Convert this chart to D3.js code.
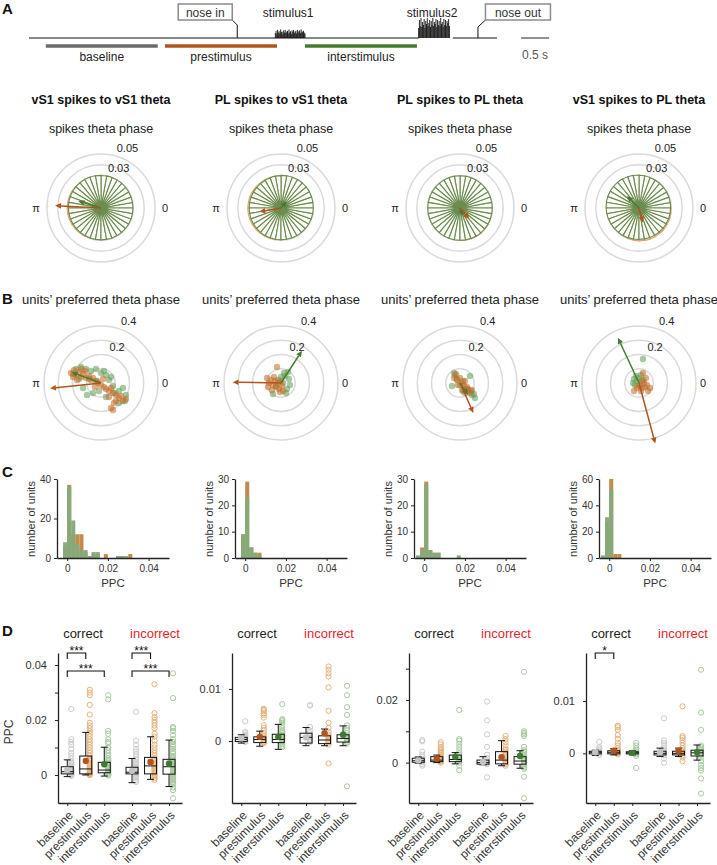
<!DOCTYPE html>
<html>
<head>
<meta charset="utf-8">
<script src="https://cdn.jsdelivr.net/npm/d3@7"></script>
<style>
body { margin: 0; background: #fff; }
svg { font-family: "Liberation Sans", Arial, sans-serif; }
</style>
</head>
<body>
<script>

// ---------------- data ----------------

// panel A : trial timeline (seconds)
var trialEnd = 8.36, noseIn = 3.72, noseOut = 8.02, lineResume = 7.57;
var stim1 = [4.40, 4.93], stim2 = [6.96, 7.51];
var periodNames = ["baseline", "prestimulus", "interstimulus"];
var periodStart = [0.3, 2.43, 4.93];
var periodEnd = [2.3, 4.43, 6.93];
var scaleBarStart = 8.79, scaleBarLen = 0.5;
var stim1Amp = [0.55,0.8,0.45,0.9,0.6,0.75,0.5,0.95,0.65,0.7,0.4,0.85,0.6,0.9,0.55,0.7,0.8,0.5,0.95,0.6,0.75,0.45,0.85,0.65,0.9,0.55,0.7,0.8,0.5,0.9,0.6,0.75,0.85,0.55,0.95,0.65,0.7,0.8,0.6,0.5];
var stim2Amp = [0.5,0.9,0.6,1.0,0.55,0.8,0.65,0.95,0.5,0.85,0.7,1.0,0.6,0.75,0.9,0.55,0.85,0.65,1.0,0.6,0.8,0.7,0.95,0.55,0.9,0.65,0.85,0.6,1.0,0.7,0.8,0.55,0.95,0.65,0.9,0.6,0.85,0.75,0.95,0.6];

var panelTitles = ["vS1 spikes to vS1 theta", "PL spikes to vS1 theta", "PL spikes to PL theta", "vS1 spikes to PL theta"];

// row 1 : spike phase distributions, 36 bins of 10 deg starting at 0
var rosePre = [
  [0.0285,0.0285,0.0285,0.0285,0.0285,0.029,0.029,0.029,0.0292,0.0295,0.0298,0.030,0.0302,0.0305,0.0308,0.031,0.0312,0.0313,0.0313,0.0312,0.031,0.0307,0.0303,0.030,0.0296,0.0292,0.029,0.0288,0.0286,0.0285,0.0285,0.0285,0.0285,0.0285,0.0285,0.0285],
  [0.0288,0.0288,0.0288,0.0288,0.0288,0.0288,0.0289,0.029,0.0291,0.0293,0.0295,0.0297,0.0299,0.0301,0.0303,0.0305,0.0306,0.0307,0.0307,0.0307,0.0306,0.0305,0.0303,0.0301,0.0299,0.0297,0.0295,0.0293,0.0291,0.029,0.0289,0.0288,0.0288,0.0288,0.0288,0.0288],
  [0.0293,0.0292,0.0291,0.029,0.029,0.029,0.029,0.029,0.029,0.029,0.029,0.029,0.029,0.029,0.029,0.029,0.029,0.029,0.029,0.029,0.029,0.029,0.0291,0.0292,0.0294,0.0296,0.0298,0.030,0.0302,0.0303,0.0303,0.0302,0.030,0.0298,0.0296,0.0294],
  [0.0295,0.0293,0.0291,0.029,0.0289,0.0288,0.0287,0.0286,0.0285,0.0285,0.0285,0.0285,0.0285,0.0285,0.0285,0.0285,0.0285,0.0285,0.0286,0.0287,0.0288,0.029,0.0292,0.0294,0.0297,0.030,0.0302,0.0304,0.0305,0.0305,0.0304,0.0303,0.0302,0.030,0.0299,0.0297]
];
var roseInt = [
  [0.0295,0.0295,0.0295,0.0296,0.0297,0.0298,0.0299,0.030,0.0301,0.0302,0.0303,0.0304,0.0304,0.0304,0.0304,0.0304,0.0303,0.0302,0.0301,0.030,0.0299,0.0298,0.0297,0.0296,0.0295,0.0295,0.0295,0.0295,0.0295,0.0295,0.0295,0.0295,0.0295,0.0295,0.0295,0.0295],
  [0.0298,0.030,0.0302,0.0303,0.0304,0.0305,0.0304,0.0303,0.0302,0.030,0.0298,0.0296,0.0295,0.0294,0.0294,0.0294,0.0294,0.0294,0.0294,0.0294,0.0294,0.0294,0.0294,0.0294,0.0294,0.0294,0.0294,0.0294,0.0294,0.0294,0.0294,0.0294,0.0295,0.0296,0.0297,0.0298],
  [0.0298,0.0298,0.0298,0.0298,0.0298,0.0298,0.0298,0.0298,0.0298,0.0298,0.0298,0.0298,0.0298,0.0298,0.0298,0.0298,0.0298,0.0298,0.0298,0.0298,0.0298,0.0298,0.0298,0.0298,0.0298,0.0298,0.0298,0.0299,0.0299,0.030,0.030,0.0299,0.0299,0.0298,0.0298,0.0298],
  [0.0292,0.0293,0.0294,0.0295,0.0296,0.0297,0.0299,0.0301,0.0303,0.0305,0.0307,0.0308,0.0309,0.0309,0.0309,0.0308,0.0307,0.0305,0.0303,0.0301,0.0299,0.0297,0.0295,0.0294,0.0293,0.0292,0.0291,0.029,0.029,0.029,0.029,0.029,0.029,0.029,0.0291,0.0291]
];
// mean resultant vectors [angle deg, length]
var roseArrowPre = [[177, 0.0426], [190, 0.0204], [-50, 0.0133], [-75, 0.0139]];
var roseArrowInt = [[163, 0.022], [50, 0.0083], [-67, 0.0078], [135, 0.0157]];

// row B : units' preferred phase vectors [cos, sin] components
var unitsPre = [
  [[-0.21,0.07],[-0.19,0.09],[-0.175,0.056],[-0.154,0.077],[-0.14,0.042],[-0.126,0.063],[-0.105,0.035],[-0.084,0.049],[-0.07,0.021],[-0.056,0.035],[-0.035,0.014],[-0.021,0],[0,-0.014],[0.021,-0.028],[0.035,-0.042],[0.056,-0.056],[0.07,-0.035],[0.084,-0.07],[0.105,-0.084],[0.126,-0.105],[0.14,-0.091],[0.154,-0.126],[0.175,-0.112],[0.091,-0.14],[-0.14,0.098],[-0.196,0.042],[-0.112,0.084],[-0.042,-0.028],[0.014,0.028],[-0.168,0.021],[0.056,-0.098],[0.105,-0.126],[0.07,-0.175],[0.084,-0.189]],
  [[-0.098,0.035],[-0.084,0],[-0.07,0.021],[-0.056,-0.014],[-0.042,0.014],[-0.035,-0.028],[-0.021,0],[-0.014,-0.042],[0,0.014],[0.007,-0.021],[-0.063,-0.049],[-0.028,0.112],[-0.091,-0.028],[0.014,-0.056],[-0.049,0.042],[-0.007,-0.063]],
  [[-0.042,0.035],[-0.021,0.021],[0,0.035],[0.014,0],[0.028,-0.021],[0.042,-0.042],[0.056,-0.056],[0.07,-0.07],[-0.014,-0.014],[0.035,0.014],[0.049,-0.028],[-0.028,0.063],[0.084,-0.049],[0.021,-0.056]],
  [[0,-0.021],[0.021,-0.035],[0.042,-0.028],[0.056,-0.014],[0.077,-0.035],[-0.035,-0.056],[0.014,-0.056],[0.035,0],[0.049,0.035],[0.028,0.07],[-0.014,-0.035],[0.063,-0.056],[0.021,0.014]]
];
var unitsInt = [
  [[-0.175,0.098],[-0.14,0.112],[-0.105,0.098],[-0.07,0.084],[-0.035,0.098],[0,0.07],[0.035,0.056],[0.056,0.021],[0.084,-0.021],[0.126,-0.056],[0.154,-0.035],[0.175,-0.084],[0.168,-0.126],[0.126,-0.14],[-0.126,-0.035],[-0.098,-0.084],[-0.056,-0.07],[-0.014,-0.056],[0.035,-0.098],[-0.196,0.063],[-0.154,0.028],[-0.028,0.014],[0.021,0.084],[0.07,0.042],[0.098,-0.07],[-0.084,0.028]],
  [[-0.056,-0.077],[0.035,-0.07],[0.021,0.07],[0.056,0.028],[0.063,-0.014],[0.042,-0.042],[0,0.042],[-0.021,0.021],[0.014,0],[-0.035,-0.021],[0.028,0.049],[0.049,0.077]],
  [[-0.056,-0.021],[-0.035,0.056],[0.07,0.049],[0.084,-0.084],[0.105,-0.105],[0.035,-0.07],[0,-0.014],[-0.021,0.028],[0.056,-0.042],[0.021,0.014],[-0.042,0.07],[0.077,-0.056],[0.014,-0.049],[0.098,-0.077]],
  [[-0.035,0.028],[-0.021,0.049],[0,0.035],[0.014,0.056],[-0.042,0],[-0.014,0.014],[0.028,0.021],[0.028,0.168],[0.007,-0.014],[-0.028,-0.014]]
];
var unitsArrowPre = [[186, 0.36], [179, 0.34], [-66, 0.23], [-75, 0.44]];
var unitsArrowInt = [[160, 0.22], [57, 0.27], [-56, 0.10], [115, 0.35]];

// row C : PPC histograms, bins of 0.002 starting at -0.004
var histBinStart = -0.004, histBinWidth = 0.002;
var histPre = [
  [0,6,37,12,12,12,3,1,2,2,0,2,0,0,1,1,0,2],
  [0,9,29,4,2,2],
  [0,4,29,3,2,2,0,0,0,0,0,0],
  [0,28,60,3,3]
];
var histInt = [
  [0,8,36,19,7,4,4,1,3,3,0,0,0,0,1,1,1,0],
  [0,9,23,4,2,1],
  [1,3,28,3,2,2,0,0,0,0,1,0],
  [2,31,52,0,0]
];
var histYMax = [40, 30, 30, 60];
var histYTicks = [[0,20,40],[0,10,20,30],[0,10,20,30],[0,20,40,60]];
var histXTicks = [0, 0.02, 0.04];

// row D : PPC box plots, per panel 6 groups (correct b/p/i, incorrect b/p/i)
var groupNames = ["baseline","prestimulus","interstimulus","baseline","prestimulus","interstimulus"];
var groupPos = [1, 2, 3, 4.5, 5.5, 6.5];
// [whisker low, q1, median, q3, whisker high, mean]
var boxStats = [
  [[-0.0006,0.0004,0.0012,0.003,0.0055,0.0018],[0,0.0004,0.0022,0.0069,0.0155,0.0051],[-0.0004,0.0008,0.0018,0.0046,0.0101,0.0039],
   [-0.0028,0.0004,0.001,0.0028,0.006,0.0015],[-0.0016,0.0004,0.0033,0.0064,0.0139,0.0047],[-0.0042,0.0003,0.003,0.0057,0.0127,0.0042]],
  [[-0.0004,-0.0001,0.0003,0.0007,0.0012,0.0005],[-0.001,-0.0003,0.0003,0.0008,0.0019,0.0008],[-0.0016,-0.0003,0.0003,0.0013,0.0032,0.0008],
   [-0.0009,-0.0004,0.0007,0.0015,0.0026,0.0007],[-0.0009,-0.0005,0.0002,0.001,0.0023,0.0015],[-0.0009,-0.0002,0.0005,0.0012,0.0029,0.0012]],
  [[-0.0002,0.0001,0.0006,0.0014,0.0018,0.0007],[0,0.0003,0.0008,0.0019,0.0024,0.0012],[-0.0004,0.0003,0.001,0.0024,0.0032,0.0019],
   [-0.0007,-0.0005,0,0.0008,0.0019,0.0002],[-0.001,-0.0004,0.0008,0.0035,0.007,0.0017],[-0.0018,-0.0005,0.0005,0.0019,0.0038,0.0021]],
  [[-0.0004,-0.0001,0.0002,0.0004,0.0006,0.0002],[-0.0003,-0.0001,0.0002,0.0005,0.0009,0.0005],[-0.0003,-0.0001,0.0001,0.0003,0.0005,0.0001],
   [-0.0006,-0.0003,0,0.0004,0.001,0.0002],[-0.0006,-0.0003,0,0.0004,0.001,0.0005],[-0.0013,-0.0005,0.0001,0.0006,0.0016,0.0002]]
];
var boxPoints = [
  [[0.024,0.013,0.012,0.011,0.0095,0.008,0.007,0.006,0.005,0.0045,0.004,0.0035,0.003,0.0025,0.002,0.0018,0.0015,0.0012,0.001,0.0008,0.0005,0.0003,0.0001,0,-0.0003],
   [0.031,0.030,0.029,0.0255,0.022,0.019,0.018,0.017,0.016,0.015,0.014,0.013,0.012,0.011,0.010,0.009,0.008,0.007,0.006,0.0055,0.005,0.0045,0.004,0.0035,0.003,0.0025,0.002,0.0015,0.001,0.0008,0.0005,0.0003,0.0001,0],
   [0.029,0.0275,0.016,0.015,0.013,0.012,0.0115,0.01,0.009,0.008,0.007,0.006,0.0055,0.005,0.0045,0.004,0.0035,0.003,0.0025,0.002,0.0015,0.001,0.0007,0.0004,0.0001,-0.0002],
   [0.023,0.0125,0.011,0.0095,0.0085,0.0075,0.0065,0.0055,0.0045,0.004,0.0035,0.003,0.0025,0.002,0.0015,0.001,0.0006,0.0002,-0.0005,-0.001,-0.0018,-0.0025],
   [0.033,0.0225,0.021,0.02,0.019,0.018,0.017,0.015,0.014,0.0125,0.011,0.01,0.009,0.008,0.007,0.006,0.0055,0.005,0.0045,0.004,0.0035,0.003,0.0025,0.002,0.0015,0.001,0.0005,0,-0.0005,-0.0012,-0.0018],
   [0.037,0.028,0.0175,0.017,0.016,0.0145,0.013,0.012,0.011,0.0105,0.0095,0.0085,0.008,0.007,0.0065,0.006,0.0055,0.005,0.0045,0.004,0.0035,0.003,0.0025,0.002,0.0015,0.001,0.0005,0,-0.0005,-0.001,-0.0015,-0.002,-0.0025,-0.003,-0.0035,-0.0045,-0.0055,-0.0085]],
  [[0.0038,0.0018,0.0015,0.0012,0.001,0.0008,0.0006,0.0004,0.0002,0.0001,0,-0.0002],
   [0.0062,0.006,0.0057,0.0053,0.005,0.0045,0.003,0.0025,0.002,0.0015,0.001,0.0007,0.0005,0.0003,0.0001,-0.0002,-0.0004],
   [0.0071,0.0042,0.004,0.0038,0.0035,0.003,0.0025,0.002,0.0018,0.0015,0.0012,0.001,0.0007,0.0005,0.0003,0,-0.0003,-0.0006,-0.0009,-0.0012],
   [0.0069,0.0068,0.0027,0.002,0.0015,0.001,0.0007,0.0004,0.0001,-0.0002],
   [0.0143,0.0137,0.013,0.0124,0.0103,0.0058,0.0035,0.0025,0.0018,0.0012,0.0008,0.0005,0.0002,0,-0.0003,-0.0007,-0.0043],
   [0.0106,0.0088,0.0065,0.005,0.003,0.0025,0.002,0.0015,0.001,0.0007,0.0004,0.0001,-0.0002,-0.0005,-0.0087]],
  [[0.0072,0.0068,0.0035,0.0025,0.0018,0.0012,0.0008,0.0004,0.0001,-0.0005,-0.001],
   [0.0065,0.0058,0.005,0.0045,0.004,0.0035,0.003,0.0025,0.002,0.0015,0.001,0.0006,0.0003,0],
   [0.0168,0.0075,0.007,0.006,0.005,0.004,0.003,0.0025,0.002,0.0015,0.001,0.0005,0,-0.001,-0.0024],
   [0.0195,0.0135,0.009,0.005,0.0025,0.0015,0.0008,0.0003,-0.0002,-0.0005,-0.0047],
   [0.0085,0.0075,0.0065,0.0055,0.0045,0.004,0.0035,0.003,0.0025,0.002,0.0015,0.001,0.0005,0,-0.0005,-0.001],
   [0.029,0.01,0.0095,0.009,0.0085,0.005,0.004,0.0035,0.003,0.0025,0.002,0.0015,0.001,0.0005,0,-0.0005,-0.001,-0.0015,-0.002,-0.0045,-0.0114]],
  [[0.0022,0.0012,0.0009,0.0006,0.0004,0.0002,0,-0.0003],
   [0.0053,0.005,0.0045,0.0035,0.0028,0.002,0.0015,0.001,0.0007,0.0004,0.0002,0,-0.0002],
   [0.002,0.0015,0.001,0.0007,0.0004,0.0002,0,-0.0002,-0.0005,-0.0028],
   [0.0067,0.0025,0.002,0.0015,0.001,0.0006,0.0003,0,-0.0004,-0.001,-0.0018],
   [0.009,0.0033,0.003,0.0025,0.002,0.0015,0.001,0.0006,0.0003,0,-0.0004,-0.0008,-0.0015],
   [0.016,0.0078,0.0045,0.0015,0.0012,0.0009,0.0006,0.0003,0,-0.0003,-0.0008,-0.0015,-0.0022,-0.0028,-0.0033,-0.0048,-0.0077]]
];
var boxYDomain = [[-0.0102, 0.0444], [-0.0119, 0.0169], [-0.0129, 0.035], [-0.0095, 0.0192]];
var boxYTicks = [[0,0.01,0.02,0.03,0.04],[0,0.01],[0,0.01,0.02,0.03],[0,0.01]];
var boxYLabels = [[0,0.02,0.04],[0,0.01],[0,0.02],[0,0.01]];
// significance brackets
var sigPanel = [0, 0, 0, 0, 3];
var sigFrom = [1, 1, 4.5, 4.5, 1];
var sigTo = [2, 3, 5.5, 6.5, 2];
var sigLevel = [0, 1, 0, 1, 0];
var sigText = ["***", "***", "***", "***", "*"];

// ---------------- drawing ----------------

var col = {
  base: "#6b6b6b", pre: "#b1541d", int: "#477b2f",
  roseInt: "#6b8b4e", rosePre: "#e2a46f",
  dotPre: "#c26a26", dotInt: "#5e9c53",
  histPre: "#c48a4d", histInt: "#83aa7b",
  ring: "#dadada", red: "#e3252b"
};
var meanFill = ["#c3c3c3", col.pre, "#3f7a31"];
var ptStroke = ["#cccccc", "#e4b27d", "#a9caa1"];

var svg = d3.select("body").append("svg").attr("width", 717).attr("height", 865);

function panelLetter(t, x, y) {
  svg.append("text").attr("x", x).attr("y", y).text(t)
    .attr("font-size", 15).attr("font-weight", "bold").attr("fill", "#111");
}
panelLetter("A", 2, 14);
panelLetter("B", 2, 304);
panelLetter("C", 2, 477);
panelLetter("D", 2, 636);

// ----- panel A -----
var tA = d3.scaleLinear().domain([0, trialEnd]).range([29, 497]);
var lineY = 38;
var gA = svg.append("g");

gA.append("line").attr("x1", tA(0)).attr("x2", tA(stim2[0])).attr("y1", lineY).attr("y2", lineY)
  .attr("stroke", "#111").attr("stroke-width", 1.2);
gA.append("line").attr("x1", tA(lineResume)).attr("x2", tA(trialEnd)).attr("y1", lineY).attr("y2", lineY)
  .attr("stroke", "#111").attr("stroke-width", 1.2);

function stimTrace(span, amp, h) {
  var step = (span[1] - span[0]) / (amp.length - 1);
  gA.selectAll(null).data(amp).enter().append("line")
    .attr("x1", function(d, i) { return tA(span[0] + i * step); })
    .attr("x2", function(d, i) { return tA(span[0] + i * step); })
    .attr("y1", lineY)
    .attr("y2", function(d) { return lineY - d * h; })
    .attr("stroke", "#111").attr("stroke-width", 0.9);
}
stimTrace(stim1, stim1Amp, 9);
stimTrace(stim2, stim2Amp, 20);

gA.append("text").attr("x", (tA(stim1[0]) + tA(stim1[1])) / 2 - 2).attr("y", 17).attr("text-anchor", "middle")
  .attr("font-size", 12).attr("fill", "#222").text("stimulus1");
gA.append("text").attr("x", (tA(stim2[0]) + tA(stim2[1])) / 2 - 2).attr("y", 17).attr("text-anchor", "middle")
  .attr("font-size", 12).attr("fill", "#222").text("stimulus2");

// nose in / nose out callouts
var xin = tA(noseIn);
gA.append("path").attr("d", "M" + xin + "," + lineY + "V25L" + (xin - 5) + ",20")
  .attr("fill", "none").attr("stroke", "#111").attr("stroke-width", 1);
gA.append("rect").attr("x", xin - 59).attr("y", 4).attr("width", 54).attr("height", 16)
  .attr("fill", "#fff").attr("stroke", "#8c8c8c").attr("stroke-width", 1.5);
gA.append("text").attr("x", xin - 32).attr("y", 16.5).attr("text-anchor", "middle")
  .attr("font-size", 12).attr("fill", "#333").text("nose in");
var xout = tA(noseOut);
gA.append("path").attr("d", "M" + xout + "," + lineY + "V27L" + (xout + 7.5) + ",20")
  .attr("fill", "none").attr("stroke", "#111").attr("stroke-width", 1);
gA.append("rect").attr("x", xout + 7.5).attr("y", 4).attr("width", 65).attr("height", 16)
  .attr("fill", "#fff").attr("stroke", "#8c8c8c").attr("stroke-width", 1.5);
gA.append("text").attr("x", xout + 40).attr("y", 16.5).attr("text-anchor", "middle")
  .attr("font-size", 12).attr("fill", "#333").text("nose out");

// period bars
var periodCol = [col.base, col.pre, col.int];
periodNames.forEach(function(n, i) {
  gA.append("line").attr("x1", tA(periodStart[i])).attr("x2", tA(periodEnd[i]))
    .attr("y1", 46).attr("y2", 46).attr("stroke", periodCol[i]).attr("stroke-width", 3.3);
  gA.append("text").attr("x", (tA(periodStart[i]) + tA(periodEnd[i])) / 2).attr("y", 61)
    .attr("text-anchor", "middle").attr("font-size", 12).attr("fill", "#222").text(n);
});
gA.append("line").attr("x1", tA(scaleBarStart)).attr("x2", tA(scaleBarStart + scaleBarLen))
  .attr("y1", lineY).attr("y2", lineY).attr("stroke", "#555").attr("stroke-width", 1.3);
gA.append("text").attr("x", tA(scaleBarStart + scaleBarLen / 2)).attr("y", 59).attr("text-anchor", "middle")
  .attr("font-size", 12).attr("fill", "#555").text("0.5 s");

// ----- polar helpers -----
var polarX = [101, 281, 460, 639];
function toXY(cx, cy, ang, r) { return [cx + r * Math.cos(ang), cy - r * Math.sin(ang)]; }

function arrow(g, cx, cy, deg, len, color) {
  var a = deg * Math.PI / 180, hl = 6, hw = 2.8;
  var tip = toXY(cx, cy, a, len), base = toXY(cx, cy, a, len - hl);
  var px = Math.sin(a), py = Math.cos(a);
  g.append("line").attr("x1", cx).attr("y1", cy).attr("x2", base[0]).attr("y2", base[1])
    .attr("stroke", color).attr("stroke-width", 1.5);
  g.append("path").attr("d", "M" + tip + "L" + [base[0] + hw * px, base[1] + hw * py] + "L" + [base[0] - hw * px, base[1] - hw * py] + "Z")
    .attr("fill", color);
}

function polarFrame(g, cx, cy, rScale, rings, labels, fmt) {
  rings.forEach(function(v) {
    g.append("circle").attr("cx", cx).attr("cy", cy).attr("r", rScale(v))
      .attr("fill", "none").attr("stroke", col.ring).attr("stroke-width", 1.5);
  });
  var a = 66 * Math.PI / 180;
  labels.forEach(function(v) {
    var p = toXY(cx, cy, a, rScale(v) + 11);
    g.append("text").attr("x", p[0]).attr("y", p[1]).attr("dy", "0.35em").attr("text-anchor", "middle")
      .attr("font-size", 11).attr("fill", "#222").text(fmt(v));
  });
  g.append("text").attr("x", cx - 65).attr("y", cy).attr("dy", "0.35em").attr("text-anchor", "middle")
    .attr("font-size", 11).attr("fill", "#222").text("π");
  g.append("text").attr("x", cx + 64).attr("y", cy).attr("dy", "0.35em").attr("text-anchor", "middle")
    .attr("font-size", 11).attr("fill", "#222").text("0");
}

// ----- row 1 : spikes theta phase -----
var roseY = 208;
var roseR = d3.scaleLinear().domain([0, 0.05]).range([0, 54]);
var roseArc = d3.arc().innerRadius(0).outerRadius(function(d) { return roseR(d.v); });

panelTitles.forEach(function(t, p) {
  var cx = polarX[p];
  var g = svg.append("g");
  g.append("text").attr("x", cx).attr("y", 104).attr("text-anchor", "middle")
    .attr("font-size", 12.5).attr("font-weight", "bold").attr("fill", "#111").text(t);
  g.append("text").attr("x", cx).attr("y", 133).attr("text-anchor", "middle")
    .attr("font-size", 12.5).attr("fill", "#222").text("spikes theta phase");
  polarFrame(g, cx, roseY, roseR, [0.01, 0.02, 0.03, 0.04, 0.05], [0.03, 0.05], d3.format(".2f"));

  function wedges(vals, fill, stroke) {
    var n = vals.length, w = 2 * Math.PI / n;
    g.append("g").attr("transform", "translate(" + cx + "," + roseY + ")")
      .selectAll("path").data(vals.map(function(v, i) {
        return { v: v, startAngle: Math.PI / 2 - (i + 1) * w, endAngle: Math.PI / 2 - i * w };
      }))
      .enter().append("path").attr("d", roseArc)
      .attr("fill", fill).attr("stroke", stroke).attr("stroke-width", 1.1);
  }
  wedges(rosePre[p], "#f7dfc9", col.rosePre);
  wedges(roseInt[p], "#fbfcf9", col.roseInt);

  arrow(g, cx, roseY, roseArrowInt[p][0], roseR(roseArrowInt[p][1]), col.int);
  arrow(g, cx, roseY, roseArrowPre[p][0], roseR(roseArrowPre[p][1]), col.pre);
});

// ----- row B : units' preferred theta phase -----
var unitsY = 383;
var unitsR = d3.scaleLinear().domain([0, 0.4]).range([0, 57]);
unitsPre.forEach(function(pre, p) {
  var cx = polarX[p];
  var g = svg.append("g");
  g.append("text").attr("x", cx).attr("y", 304).attr("text-anchor", "middle")
    .attr("font-size", 13).attr("fill", "#222").text("units\u2019 preferred theta phase");
  polarFrame(g, cx, unitsY, unitsR, [0.1, 0.2, 0.3, 0.4], [0.2, 0.4], d3.format(".1f"));

  function dots(list, color) {
    g.selectAll(null).data(list).enter().append("circle")
      .attr("cx", function(d) { return toXY(cx, unitsY, Math.atan2(d[1], d[0]), unitsR(Math.hypot(d[0], d[1])))[0]; })
      .attr("cy", function(d) { return toXY(cx, unitsY, Math.atan2(d[1], d[0]), unitsR(Math.hypot(d[0], d[1])))[1]; })
      .attr("r", 3.2).attr("fill", color).attr("fill-opacity", 0.55);
  }
  dots(unitsInt[p], col.dotInt);
  dots(pre, col.dotPre);
  arrow(g, cx, unitsY, unitsArrowInt[p][0], unitsR(unitsArrowInt[p][1]), col.int);
  arrow(g, cx, unitsY, unitsArrowPre[p][0], unitsR(unitsArrowPre[p][1]), col.pre);
});

// ----- row C : histograms -----
var histX0 = [57, 235, 414, 599];
histPre.forEach(function(pre, p) {
  var x0 = histX0[p];
  var x = d3.scaleLinear().domain([-0.005, 0.05]).range([x0, x0 + 112]);
  var y = d3.scaleLinear().domain([0, histYMax[p]]).range([558, 479]);
  var g = svg.append("g");
  function bars(counts, color, op) {
    g.selectAll(null).data(counts).enter().append("rect")
      .attr("x", function(d, i) { return x(histBinStart + i * histBinWidth); })
      .attr("width", x(histBinWidth) - x(0))
      .attr("y", function(d) { return y(d); })
      .attr("height", function(d) { return 558 - y(d); })
      .attr("fill", color).attr("fill-opacity", op);
  }
  bars(pre, col.histPre, 1);
  bars(histInt[p], col.histInt, 0.97);

  var ay = g.append("g").attr("transform", "translate(" + x0 + ",0)")
    .call(d3.axisLeft(y).tickValues(histYTicks[p]).tickSize(3).tickPadding(3).tickSizeOuter(0));
  var ax = g.append("g").attr("transform", "translate(0,558)")
    .call(d3.axisBottom(x).tickValues(histXTicks).tickSize(3).tickPadding(4).tickSizeOuter(0)
      .tickFormat(d3.format("~g")));
  [ay, ax].forEach(function(a) {
    a.select(".domain").attr("stroke", "#222").attr("stroke-width", 1.3);
    a.selectAll(".tick line").attr("stroke", "#222");
    a.selectAll("text").attr("font-size", 10).attr("fill", "#333").attr("font-family", null);
  });
  g.append("text").attr("transform", "translate(" + (x0 - 22) + ",519) rotate(-90)")
    .attr("text-anchor", "middle").attr("font-size", 11).attr("fill", "#333").text("number of units");
  g.append("text").attr("x", x0 + 56).attr("y", 587).attr("text-anchor", "middle")
    .attr("font-size", 11.5).attr("fill", "#333").text("PPC");
});

// ----- row D : box plots -----
var boxX0 = [58, 232, 409, 586];
var yBot = 803, yTop = 653;
boxStats.forEach(function(stats, p) {
  var x0 = boxX0[p];
  var x = d3.scaleLinear().domain([0.5, 7.2]).range([x0, x0 + 124]);
  var y = d3.scaleLinear().domain(boxYDomain[p]).range([yBot, yTop]);
  var g = svg.append("g");

  g.append("text").attr("x", x0 + 25).attr("y", 638).attr("text-anchor", "middle")
    .attr("font-size", 13).attr("fill", "#222").text("correct");
  g.append("text").attr("x", x0 + 97).attr("y", 638).attr("text-anchor", "middle")
    .attr("font-size", 13).attr("fill", col.red).text("incorrect");

  var ay = g.append("g").attr("transform", "translate(" + x0 + ",0)")
    .call(d3.axisLeft(y).tickValues(boxYTicks[p]).tickSize(3).tickPadding(8).tickSizeOuter(0)
      .tickFormat(function(v) {
        var show = boxYLabels[p].some(function(l) { return Math.abs(l - v) < 1e-9; });
        return show ? d3.format("~g")(v) : "";
      }));
  var ax = g.append("g").attr("transform", "translate(0," + yBot + ")")
    .call(d3.axisBottom(x).tickValues(groupPos).tickSize(3).tickSizeOuter(0)
      .tickFormat(function(d, i) { return groupNames[i]; }));
  ax.selectAll("text").attr("x", 0).attr("y", 0).attr("dy", "0.35em")
    .attr("transform", "translate(3,10) rotate(-45)").style("text-anchor", "end").attr("font-size", 12);
  [ay, ax].forEach(function(a) {
    a.select(".domain").attr("stroke", "#222").attr("stroke-width", 1.3);
    a.selectAll(".tick line").attr("stroke", "#222");
    a.selectAll("text").attr("fill", "#333").attr("font-family", null);
  });
  ay.selectAll("text").attr("font-size", 11);

  stats.forEach(function(s, k) {
    var cxk = x(groupPos[k]), c = k % 3;
    // individual units
    g.selectAll(null).data(boxPoints[p][k]).enter().append("circle")
      .attr("cx", cxk + 4).attr("cy", function(d) { return y(d); }).attr("r", 2.6)
      .attr("fill", "none").attr("stroke", ptStroke[c]).attr("stroke-width", 1);
    // whiskers
    g.append("line").attr("x1", cxk).attr("x2", cxk).attr("y1", y(s[0])).attr("y2", y(s[1])).attr("stroke", "#111");
    g.append("line").attr("x1", cxk).attr("x2", cxk).attr("y1", y(s[3])).attr("y2", y(s[4])).attr("stroke", "#111");
    [s[0], s[4]].forEach(function(v) {
      g.append("line").attr("x1", cxk - 3.5).attr("x2", cxk + 3.5).attr("y1", y(v)).attr("y2", y(v)).attr("stroke", "#111");
    });
    g.append("rect").attr("x", cxk - 6).attr("width", 12).attr("y", y(s[3])).attr("height", Math.max(1, y(s[1]) - y(s[3])))
      .attr("fill", "none").attr("stroke", "#111").attr("stroke-width", 1);
    g.append("line").attr("x1", cxk - 6).attr("x2", cxk + 6).attr("y1", y(s[2])).attr("y2", y(s[2])).attr("stroke", "#111");
    g.append("circle").attr("cx", cxk).attr("cy", y(s[5])).attr("r", 3.2).attr("fill", meanFill[c]);
  });

  sigPanel.forEach(function(sp, j) {
    if (sp !== p) return;
    var ly = sigLevel[j] === 0 ? 653 : 671;
    var xa = x(sigFrom[j]), xb = x(sigTo[j]);
    g.append("path").attr("d", "M" + xa + "," + (ly + 6) + "V" + ly + "H" + xb + "V" + (ly + 6))
      .attr("fill", "none").attr("stroke", "#111").attr("stroke-width", 1.1);
    g.append("text").attr("x", (xa + xb) / 2).attr("y", ly + 2).attr("text-anchor", "middle")
      .attr("font-size", 12).attr("fill", "#111").text(sigText[j]);
  });
});

svg.append("text").attr("transform", "translate(13,732) rotate(-90)").attr("text-anchor", "middle")
  .attr("font-size", 12).attr("fill", "#333").text("PPC");

</script>
</body>
</html>
